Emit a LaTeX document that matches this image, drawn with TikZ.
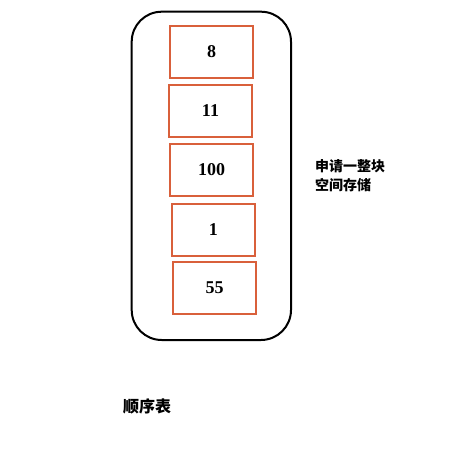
\documentclass[tikz,border=0pt]{standalone}
\usepackage{fontspec}
\setmainfont{Liberation Serif}
\newfontfamily\cjk{Noto Sans CJK SC}
\begin{document}
\begin{tikzpicture}[x=1pt,y=-1pt,
  cell/.style={draw=cellred,line width=1.8pt,minimum width=83pt,minimum height=51.5pt,
    inner sep=0pt,font=\fontsize{18pt}{20pt}\selectfont\bfseries},
  label/.style={font=\cjk\bfseries\fontsize{14pt}{19pt}\selectfont,inner sep=0pt,align=left}]
\definecolor{cellred}{HTML}{D9603B}
\useasboundingbox[fill=white] (0,0) rectangle (453,466);
% outer container
\draw[line width=2pt,rounded corners=30pt] (131.7,11.7) rectangle (291,340);
% elements of the table
\node[cell] (c1) at (211.7,51.9) {8};
\node[cell] (c2) at (210.5,110.9) {11};
\node[cell] (c3) at (211.7,169.9) {100};
\node[cell] (c4) at (213.3,230) {1};
\node[cell] (c5) at (214.7,287.9) {55};
% annotations
\node[label,anchor=north west] (note) at (315,159) {申请一整块\\空间存储};
\node[label,anchor=north west,font=\cjk\bfseries\fontsize{16pt}{19pt}\selectfont] (title) at (123,398) {顺序表};
\end{tikzpicture}
\end{document}
